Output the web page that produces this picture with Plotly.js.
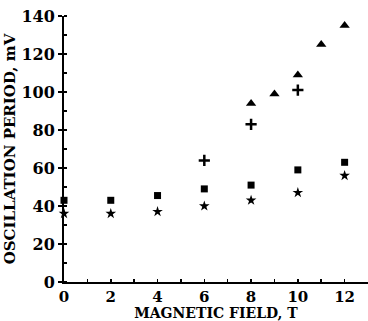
<!DOCTYPE html>
<html><head><meta charset="utf-8">
<script src="https://cdn.plot.ly/plotly-3.0.1.min.js"></script>
<style>html,body{margin:0;padding:0;background:#fff}#c{width:368px;height:321px}</style>
</head><body><div id="c"></div>
<script>
const triX = [8, 9, 10, 11, 12];
const triY = [94, 99, 109, 125, 135];
const plusX = [6, 8, 10];
const plusY = [64, 83, 101];
const sqX = [0, 2, 4, 6, 8, 10, 12];
const sqY = [43, 43, 45.5, 49, 51, 59, 63];
const starX = [0, 2, 4, 6, 8, 10, 12];
const starY = [36, 36, 37, 40, 43, 47, 56];

const mk = (x, y, sym, size) => ({
  x, y, type: 'scatter', mode: 'markers',
  marker: {symbol: sym, size: size, color: '#000', line: {width: 0}},
  cliponaxis: false, showlegend: false
});

const data = [
  mk(triX, triY, 'triangle-up', 9),
  mk(plusX, plusY, 'cross-thin', 8),
  mk(sqX, sqY, 'square', 7),
  mk(starX, starY, 'star', 8)
];
data[1].marker.line = {width: 2.5, color: '#000'};

const fam = 'DejaVu Serif, Liberation Serif, serif';
const f = {family: fam, size: 16, color: '#000', weight: 'bold'};
const layout = {
  width: 368, height: 321,
  margin: {l: 64, r: 0, t: 16, b: 39},
  paper_bgcolor: '#fff', plot_bgcolor: '#fff',
  xaxis: {
    range: [0, 13], tickvals: [0, 2, 4, 6, 8, 10, 12],
    showgrid: false, zeroline: false, showline: true, linecolor: '#000', linewidth: 2,
    ticks: 'inside', ticklen: 3, tickwidth: 1.5, tickcolor: '#000',
    ticklabelstandoff: 0,
    minor: {dtick: 1, ticks: 'inside', ticklen: 3, tickcolor: '#000', showgrid: false},
    tickfont: {family: fam, size: 15, color: '#000', weight: 'bold'},
    title: {text: 'MAGNETIC FIELD, T', font: {family: fam, size: 14, color: '#000', weight: 'bold'}, standoff: 0}
  },
  yaxis: {
    range: [0, 140], tickvals: [0, 20, 40, 60, 80, 100, 120, 140],
    showgrid: false, zeroline: false, showline: true, linecolor: '#000', linewidth: 2,
    ticks: 'outside', ticklen: 4, tickwidth: 1.5, tickcolor: '#000',
    ticklabelstandoff: 0,
    minor: {dtick: 10, ticks: 'inside', ticklen: 3, tickcolor: '#000', showgrid: false},
    tickfont: f,
    title: {text: 'OSCILLATION PERIOD, mV', font: {family: fam, size: 15, color: '#000', weight: 'bold'}, standoff: 2}
  }
};
Plotly.newPlot('c', data, layout, {displayModeBar: false, staticPlot: true});
</script></body></html>
